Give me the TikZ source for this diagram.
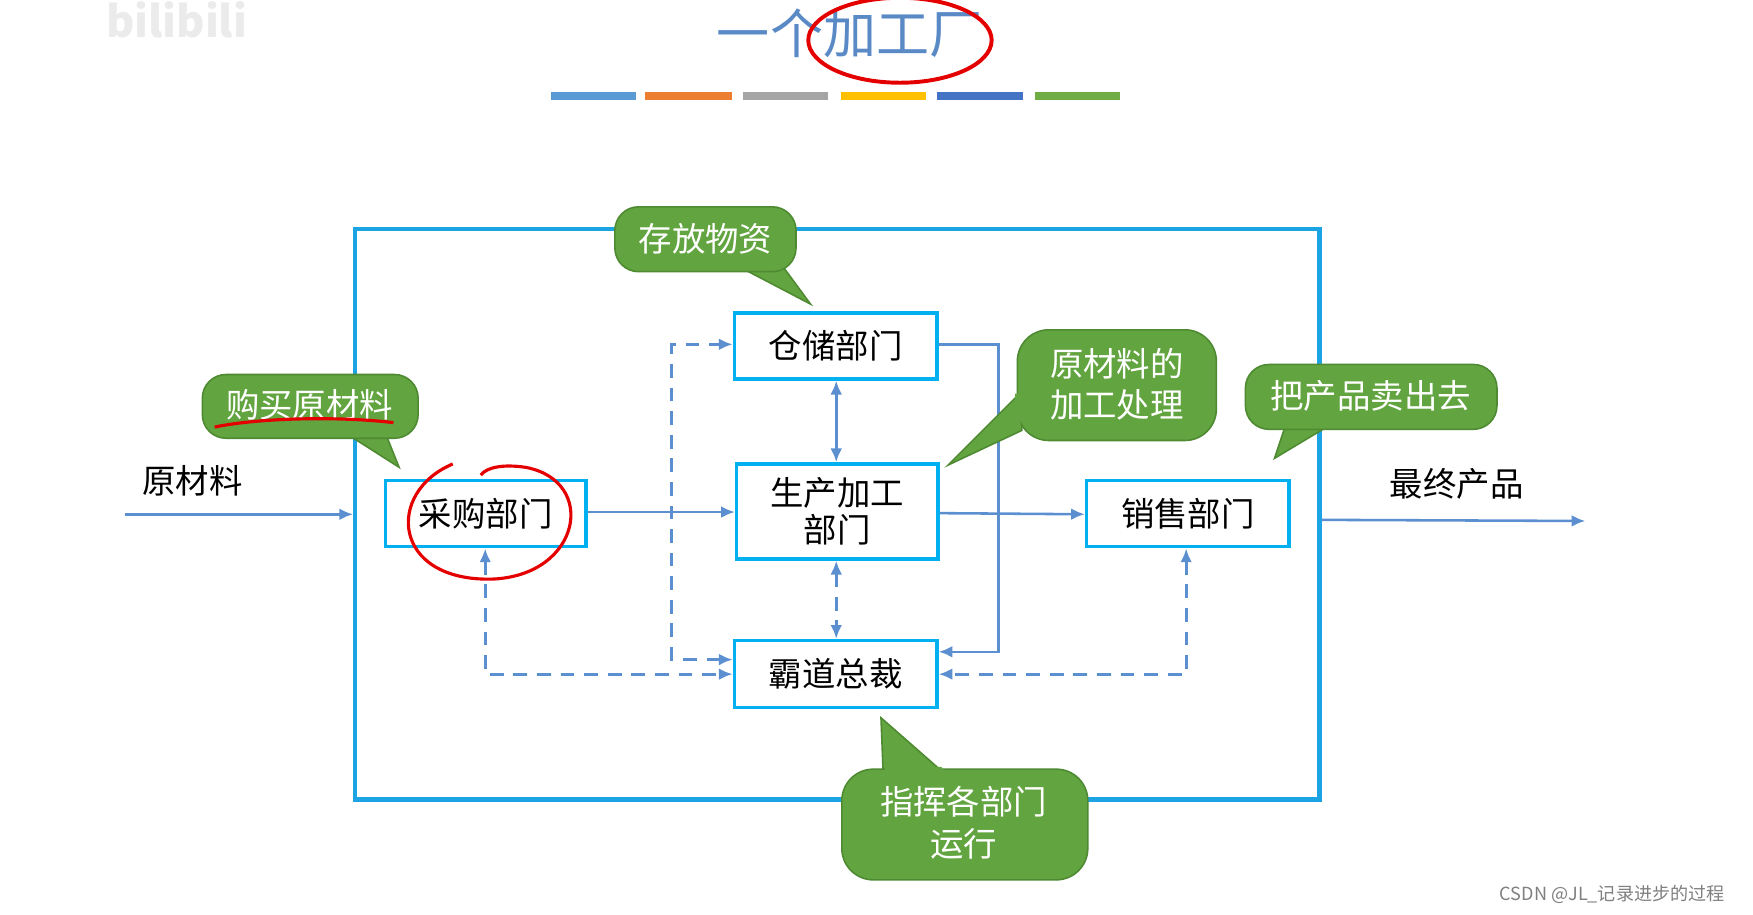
\documentclass[tikz,border=0pt]{standalone}
\usepackage{fontspec}
\setmainfont{Noto Sans CJK SC}
\usetikzlibrary{arrows.meta,calc}
\definecolor{frame}{HTML}{1CA3E3}
\definecolor{boxc}{HTML}{00B0F0}
\definecolor{arr}{HTML}{5B8FD0}
\definecolor{gfill}{HTML}{62A43F}
\definecolor{gdraw}{HTML}{4E8A32}
\definecolor{ttl}{HTML}{5A8AC6}
\tikzset{
 dept/.style={draw=boxc,line width=0.9pt,fill=white,font=\fontsize{8.5}{9.5}\selectfont,align=center,inner sep=0pt},
 ln/.style={draw=arr,line width=0.65pt,-{Latex[length=3.5pt,width=3pt]}},
 bln/.style={ln,{Latex[length=3.5pt,width=3pt]}-{Latex[length=3.5pt,width=3pt]}},
 dsh/.style={line width=0.8pt,dash pattern=on 3.5pt off 2.5pt},
 callout/.style={fill=gfill,draw=gdraw,line width=0.4pt},
 ctext/.style={text=white,font=\fontsize{8.5}{10.5}\selectfont,align=center},
 red/.style={draw=red!90!black,line width=0.8pt},
 lbl/.style={font=\fontsize{8.5}{9.5}\selectfont}
}
\begin{document}
\begin{tikzpicture}[x=0.01cm,y=-0.01cm]
\useasboundingbox[fill=white] (0,0) rectangle (1568,818);
% watermark
\node[text=black!8,font=\bfseries\fontsize{11}{11}\selectfont] (wm) at (158,18) {bilibili};
\node[text=gray,font=\fontsize{4.6}{5}\selectfont,anchor=east] (csdn) at (1555,800) {CSDN @JL\_记录进步的过程};
% title
\node[text=ttl,font=\fontsize{13.5}{14}\selectfont] (title) at (760,30) {一个加工厂};
\draw[red,line width=1pt] (805,36) ellipse (82 and 38);
\foreach \a/\b/\c in {493/569/5B9BD5,577/655/ED7D31,665/741/A5A5A5,752/828/FFC000,838/915/4472C4,926/1002/70AD47}{
 \definecolor{bc}{HTML}{\c}\fill[bc] (\a,82) rectangle (\b,89);}
% frame
\node[draw=frame,line width=1.1pt,minimum width=8.62cm,minimum height=5.10cm] (outer) at (749,460) {};
% departments
\node[dept,minimum width=1.79cm,minimum height=0.59cm] (cg) at (434.5,459.5) {采购部门};
\node[dept,minimum width=1.81cm,minimum height=0.59cm] (cc) at (747.5,309.5) {仓储部门};
\node[dept,minimum width=1.80cm,minimum height=0.85cm] (sc) at (749,457.5) {生产加工\\部门};
\node[dept,minimum width=1.81cm,minimum height=0.59cm] (xs) at (1062.5,459.5) {销售部门};
\node[dept,minimum width=1.81cm,minimum height=0.60cm] (zc) at (747.5,603) {霸道总裁};
% external
\coordinate (in) at (112,460);
\coordinate (out) at (1418,466);
\draw[ln] (in) -- (outer.west |- in);
\node[lbl] (l1) at (172,430) {原材料};
\draw[ln] (outer.east |- 0,465) -- (out);
\node[lbl] (l2) at (1303,433) {最终产品};
% flows
\draw[ln] (cg.east |- 0,458) -- (sc.west |- 0,458);
\draw[ln] (sc.east |- 0,459) -- (xs.west |- 0,460);
\draw[bln] (cc.south -| 748,0) -- (sc.north -| 748,0);
\draw[bln,dsh] (sc.south -| 748,0) -- (zc.north -| 748,0);
\draw[ln] (cc.east |- 0,308) -- (893,308) -- (893,583) -- (zc.east |- 0,583);
\draw[bln,dsh] (zc.west |- 0,590) -- (601,590) -- (601,308) -- (cc.west |- 0,308);
\draw[bln,dsh] (cg.south -| 434,0) -- (434,603) -- (zc.west |- 0,603);
\draw[bln,dsh] (xs.south -| 1061,0) -- (1061,603) -- (zc.east |- 0,603);
% callouts
\draw[callout] (660,238) -- (725,272) -- (700,238) -- cycle;
\draw[callout,rounded corners=6pt] (550,185) rectangle (712,243);
\fill[gfill] (662,236) -- (698,236) -- (700,241) -- (664,241) -- cycle;
\node[ctext] (t1) at (631,214) {存放物资};

\draw[callout] (310,388) -- (357,418) -- (345,388) -- cycle;
\draw[callout,rounded corners=6pt] (181,335) rectangle (374,392);
\fill[gfill] (312,386) -- (343,386) -- (345,391) -- (313,391) -- cycle;
\node[ctext] (t2) at (277,362) {购买原材料};

\draw[callout] (914,350) -- (848,416) -- (914,385) -- cycle;
\draw[callout,rounded corners=8pt] (910,295) rectangle (1088,394);
\fill[gfill] (908,352) -- (913,352) -- (913,383) -- (908,384) -- cycle;
\node[ctext] (t3) at (999,344) {原材料的\\加工处理};

\draw[callout] (1150,380) -- (1140,410) -- (1190,380) -- cycle;
\draw[callout,rounded corners=6pt] (1114,326) rectangle (1339,384);
\fill[gfill] (1152,378) -- (1188,378) -- (1186,383) -- (1151,383) -- cycle;
\node[ctext] (t4) at (1226,354) {把产品卖出去};

\draw[callout] (790,692) -- (788,642) -- (845,692) -- cycle;
\draw[callout,rounded corners=8pt] (753,688) rectangle (973,787);
\fill[gfill] (792,686) -- (842,686) -- (846,691) -- (791,691) -- cycle;
\node[ctext] (t5) at (862,736) {指挥各部门\\运行};
% red annotations
\draw[red] (405,415) .. controls (345,440) and (350,520) .. (440,518) .. controls (520,515) and (535,430) .. (470,418) .. controls (450,415) and (435,418) .. (430,425);
\draw[red] (192,382) .. controls (230,374) and (300,372) .. (352,378);
\end{tikzpicture}
\end{document}
